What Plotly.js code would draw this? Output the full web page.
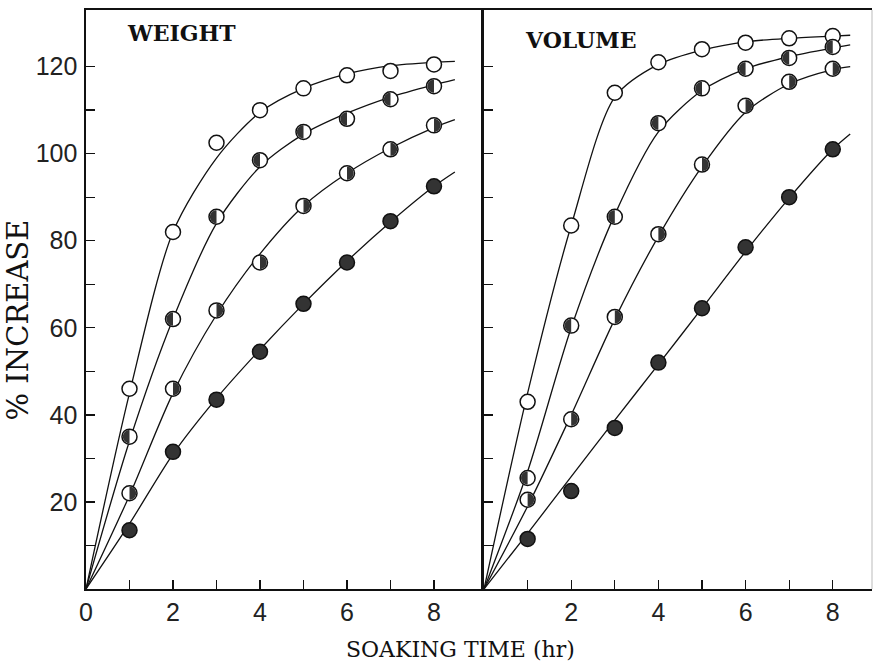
<!DOCTYPE html>
<html>
<head>
<meta charset="utf-8">
<script src="https://cdn.plot.ly/plotly-3.0.1.min.js"></script>
<style>html,body{margin:0;padding:0;background:#fff;}#chart{width:876px;height:666px;}</style>
</head>
<body>
<div id="chart"></div>
<script>
// ---- data ----
const timeHr = [1, 2, 3, 4, 5, 6, 7, 8];

// WEIGHT panel, measured points
const weightOpen      = [46, 82, 102.5, 110, 115, 118, 119, 120.5];
const weightLeftHalf  = [35, 62, 85.5, 98.5, 105, 108, 112.5, 115.5];
const weightRightHalf = [22, 46, 64, 75, 88, 95.5, 101, 106.5];
const weightFilled    = [13.5, 31.5, 43.5, 54.5, 65.5, 75, 84.5, 92.5];

// VOLUME panel, measured points
const volumeOpen      = [43, 83.5, 114, 121, 124, 125.5, 126.5, 127];
const volumeLeftHalf  = [25.5, 60.5, 85.5, 107, 115, 119.5, 122, 124.5];
const volumeRightHalf = [20.5, 39, 62.5, 81.5, 97.5, 111, 116.5, 119.5];
const volumeFilled    = [11.5, 22.5, 37, 52, 64.5, 78.5, 90, 101];

// fitted curves drawn through the points
const weightCurveTime = [0, 1, 2, 3, 4, 5, 6, 7, 8, 8.48];
const weightOpenCurve      = [0, 45, 82, 99, 109.5, 115, 118.3, 120.2, 121, 121.2];
const weightLeftHalfCurve  = [0, 34, 62, 84, 97, 104.5, 109.3, 113, 115.8, 117];
const weightRightHalfCurve = [0, 21.5, 45, 63, 77, 88, 95.5, 101.3, 106, 107.8];
const weightFilledCurve    = [0, 15, 31, 43.8, 55, 65.5, 75.3, 84.3, 92.5, 95.8];

const volumeCurveTime = [0, 1, 2, 3, 4, 5, 6, 7, 8, 8.4];
const volumeOpenCurve      = [0, 45, 83.5, 113, 120.5, 123.8, 125.7, 126.5, 127, 127.2];
const volumeLeftHalfCurve  = [0, 27, 60, 86, 105, 114.5, 119.5, 122.3, 124.3, 125];
const volumeRightHalfCurve = [0, 19, 40, 62, 81, 97, 109.5, 116, 119.3, 120];
const volumeFilledCurve    = [0, 12.8, 25.8, 38.8, 51.6, 64.5, 77.5, 89.8, 101, 104.5];

const xTickVals = [0, 1, 2, 3, 4, 5, 6, 7, 8];
const xTickTextLeft  = ['0', '', '2', '', '4', '', '6', '', '8'];
const xTickTextRight = ['', '', '2', '', '4', '', '6', '', '8'];
const yTickVals = [10, 20, 30, 40, 50, 60, 70, 80, 90, 100, 110, 120];
const yTickText = ['', '20', '', '40', '', '60', '', '80', '', '100', '', '120'];

// ---- styling ----
const INK = '#111';
const DARK = '#333';
const MSIZE = 15;

const traces = [];
const shapes = [];

function curve(xs, ys, xa, ya) {
  traces.push({x: xs, y: ys, xaxis: xa, yaxis: ya, mode: 'lines', type: 'scatter',
    line: {color: INK, width: 1.3, shape: 'spline', smoothing: 0.8}, hoverinfo: 'skip', showlegend: false});
}
function points(xs, ys, xa, ya, fill) {
  traces.push({x: xs, y: ys, xaxis: xa, yaxis: ya, mode: 'markers', type: 'scatter',
    marker: {symbol: 'circle', size: MSIZE, color: fill, line: {color: INK, width: 1.5}}, showlegend: false});
}
function halfPath(side, r) {
  const n = 20, pts = [];
  for (let i = 0; i <= n; i++) {
    const a = Math.PI / 2 + Math.PI * i / n;
    let px = r * Math.cos(a), py = r * Math.sin(a);
    if (side === 'right') px = -px;
    pts.push(px.toFixed(2) + ',' + py.toFixed(2));
  }
  return 'M' + pts.join(' L') + ' Z';
}
function halves(xs, ys, xref, yref, side) {
  const p = halfPath(side, 6.6);
  for (let i = 0; i < xs.length; i++) {
    shapes.push({type: 'path', xref: xref, yref: yref, xsizemode: 'pixel', ysizemode: 'pixel',
      xanchor: xs[i], yanchor: ys[i], path: p, fillcolor: DARK, line: {width: 0}, layer: 'above'});
  }
}

// WEIGHT
curve(weightCurveTime, weightOpenCurve, 'x', 'y');
curve(weightCurveTime, weightLeftHalfCurve, 'x', 'y');
curve(weightCurveTime, weightRightHalfCurve, 'x', 'y');
curve(weightCurveTime, weightFilledCurve, 'x', 'y');
points(timeHr, weightOpen, 'x', 'y', '#fff');
points(timeHr, weightLeftHalf, 'x', 'y', '#fff');
points(timeHr, weightRightHalf, 'x', 'y', '#fff');
points(timeHr, weightFilled, 'x', 'y', DARK);
halves(timeHr, weightLeftHalf, 'x', 'y', 'left');
halves(timeHr, weightRightHalf, 'x', 'y', 'right');

// VOLUME
curve(volumeCurveTime, volumeOpenCurve, 'x2', 'y2');
curve(volumeCurveTime, volumeLeftHalfCurve, 'x2', 'y2');
curve(volumeCurveTime, volumeRightHalfCurve, 'x2', 'y2');
curve(volumeCurveTime, volumeFilledCurve, 'x2', 'y2');
points(timeHr, volumeOpen, 'x2', 'y2', '#fff');
points(timeHr, volumeLeftHalf, 'x2', 'y2', '#fff');
points(timeHr, volumeRightHalf, 'x2', 'y2', '#fff');
points(timeHr, volumeFilled, 'x2', 'y2', DARK);
halves(timeHr, volumeLeftHalf, 'x2', 'y2', 'left');
halves(timeHr, volumeRightHalf, 'x2', 'y2', 'right');

// faint right border of the VOLUME panel
shapes.push({type: 'line', xref: 'paper', yref: 'paper', x0: 1, x1: 1, y0: 0, y1: 1,
  line: {color: '#bbb', width: 1}, layer: 'above'});

const tickFont = {family: 'Liberation Sans, Arial, sans-serif', size: 25, color: '#222'};
const serif = 'DejaVu Serif, serif';

const axBase = {showgrid: false, zeroline: false, showline: true, linecolor: INK, linewidth: 1.6,
  ticks: 'inside', ticklen: 9, tickwidth: 1.3, tickcolor: INK, tickfont: tickFont, fixedrange: true};

const layout = {
  width: 876, height: 666,
  margin: {l: 86, r: 4, t: 10, b: 77},
  paper_bgcolor: '#fff', plot_bgcolor: '#fff',
  showlegend: false,
  xaxis: Object.assign({}, axBase, {domain: [0, 0.5025], range: [0, 9.08], anchor: 'y', mirror: true,
    tickmode: 'array', tickvals: xTickVals, ticktext: xTickTextLeft}),
  xaxis2: Object.assign({}, axBase, {domain: [0.5064, 1], range: [0, 8.9], anchor: 'y2', mirror: true,
    tickmode: 'array', tickvals: xTickVals, ticktext: xTickTextRight}),
  yaxis: Object.assign({}, axBase, {domain: [0, 1], range: [0, 133], anchor: 'x', mirror: true,
    tickmode: 'array', tickvals: yTickVals, ticktext: yTickText, ticklabelstandoff: 2}),
  yaxis2: Object.assign({}, axBase, {domain: [0, 1], range: [0, 133], anchor: 'x2', matches: 'y',
    tickmode: 'array', tickvals: yTickVals, showticklabels: false}),
  shapes: shapes,
  annotations: [
    {text: 'WEIGHT', xref: 'x', yref: 'y', x: 0.9, y: 127.7, xanchor: 'left', yanchor: 'middle',
      showarrow: false, font: {family: serif, size: 22, color: INK, weight: 'bold'}},
    {text: 'VOLUME', xref: 'x2', yref: 'y2', x: 0.9, y: 126.1, xanchor: 'left', yanchor: 'middle',
      showarrow: false, font: {family: serif, size: 22, color: INK, weight: 'bold'}},
    {text: 'SOAKING TIME (hr)', xref: 'paper', yref: 'paper', x: 0.477, y: -0.105,
      xanchor: 'center', yanchor: 'middle', showarrow: false, font: {family: serif, size: 22, color: INK}},
    {text: '% INCREASE', xref: 'paper', yref: 'paper', x: -0.086, y: 0.4646, textangle: -90,
      xanchor: 'center', yanchor: 'middle', showarrow: false, font: {family: serif, size: 29, color: INK}}
  ]
};

Plotly.newPlot('chart', traces, layout, {displayModeBar: false, staticPlot: true});
</script>
</body>
</html>
